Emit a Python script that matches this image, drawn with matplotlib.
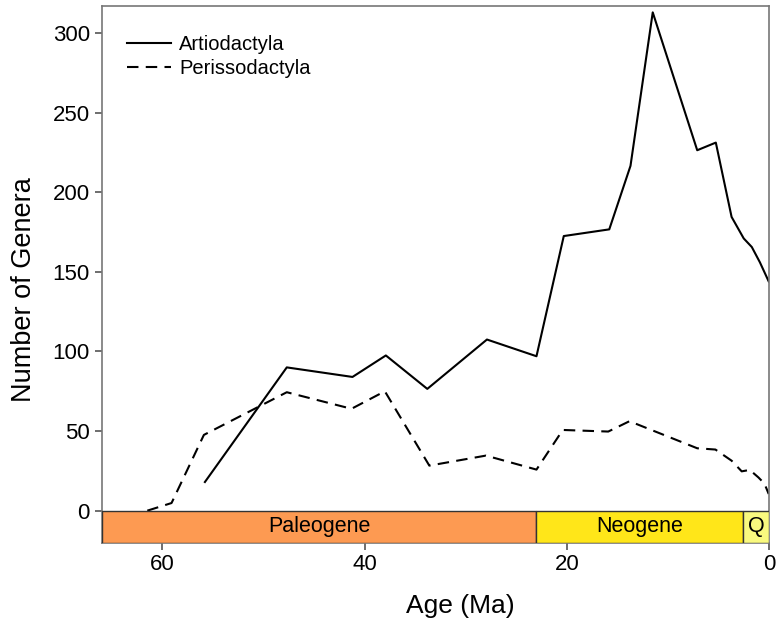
import matplotlib
matplotlib.use("Agg")
import matplotlib.pyplot as plt
from matplotlib.patches import Rectangle

plt.rcParams['font.family'] = ['Liberation Sans', 'DejaVu Sans']

artio_age = [55.8, 47.7, 41.2, 37.9, 33.8, 27.9, 23.0, 20.3, 15.8, 13.7, 11.5, 7.1, 5.26, 3.7, 2.5, 1.7, 0.9, 0.03]
artio_n = [18, 90, 84, 97.5, 76.5, 107.5, 97, 172.5, 176.7, 216.6, 313, 226.4, 231.2, 184.5, 171, 165.6, 156, 144]

peri_age = [61.5, 59.1, 55.9, 47.7, 41.3, 38.0, 33.6, 28.0, 23.0, 20.4, 15.9, 13.8, 7.1, 5.3, 3.7, 2.7, 1.9, 1.05, 0.45, 0.03]
peri_n = [0, 4.8, 47.6, 74.4, 64, 75, 28.3, 34.6, 25.8, 50.7, 49.7, 56.2, 39.2, 38.4, 31.4, 24.7, 25.6, 20.9, 17, 10.5]

periods = ["Paleogene", "Neogene", "Q"]
period_start = [66.0, 23.03, 2.58]
period_end = [23.03, 2.58, 0.0]
period_colors = ["#FD9A52", "#FFE619", "#F9F97F"]

x_ticks = [60, 40, 20, 0]
y_ticks = [0, 50, 100, 150, 200, 250, 300]

fig = plt.figure(figsize=(7.77, 6.25), dpi=100)
ax = fig.add_axes([0.131, 0.1307, 0.8587, 0.8597])

ax.plot(artio_age, artio_n, color='black', lw=1.5, label='Artiodactyla')
ax.plot(peri_age, peri_n, color='black', lw=1.5, ls=(0, (5.5, 3.5)), label='Perissodactyla')

ybot = -20.5
for name, s, e, c in zip(periods, period_start, period_end, period_colors):
    ax.add_patch(Rectangle((e, ybot), s - e, -ybot, facecolor=c, edgecolor='#333333', lw=1.0, zorder=3))
    ax.text((s + e) / 2, ybot / 2, name, ha='center', va='center', fontsize=15.5, zorder=4)

ax.set_xlim(66, 0)
ax.set_ylim(ybot, 317)
ax.set_xticks(x_ticks)
ax.set_yticks(y_ticks)
ax.tick_params(axis='both', labelsize=16, color='#555555', length=5, width=1.2)
ax.tick_params(axis='x', pad=3)
for sp in ax.spines.values():
    sp.set_color('#777777')
    sp.set_linewidth(1.2)

ax.set_xlabel('Age (Ma)', fontsize=19)
ax.set_ylabel('Number of Genera', fontsize=19.5)
ax.xaxis.set_label_coords(0.538, -0.094)
ax.yaxis.set_label_coords(-0.097, 0.473)

leg = ax.legend(loc='upper left', frameon=False, fontsize=14.5, handlelength=2.2,
                handletextpad=0.4, labelspacing=0.25, bbox_to_anchor=(0.01, 0.98))

fig.savefig('out.png', dpi=100)
